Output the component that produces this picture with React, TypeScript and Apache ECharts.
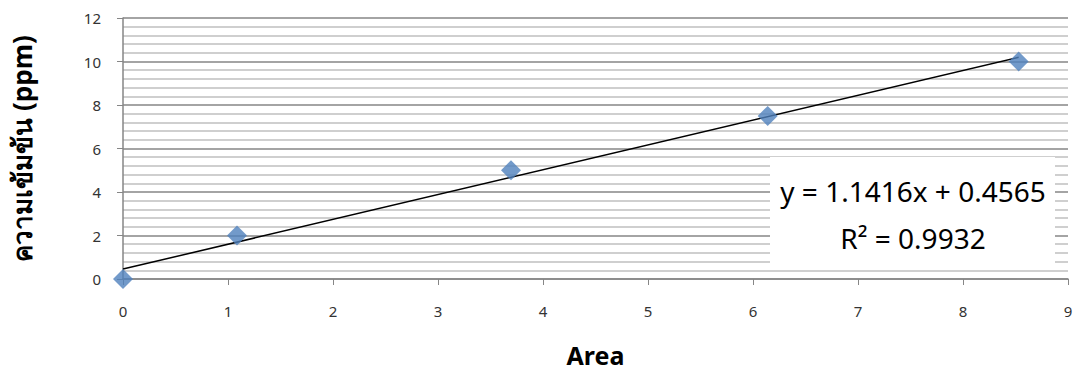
import React, { useEffect, useRef } from "react";
import * as echarts from "echarts";

const areaValues = [0, 1.086, 3.695, 6.14, 8.53];
const concValues = [0, 2, 5, 7.5, 10];
const slope = 1.1416;
const intercept = 0.4565;
const eqText = "y = 1.1416x + 0.4565";
const r2Text = "R² = 0.9932";
const xTitle = "Area";
const yTitle = "ความเข้มข้น (ppm)";

export default function App() {
  const ref = useRef<HTMLDivElement>(null);
  useEffect(() => {
    document.body.style.margin = "0";
    const chart = echarts.init(ref.current!, null, { renderer: "svg" });
    const xEnd = areaValues[areaValues.length - 1];
    const trend = [
      [0, intercept],
      [xEnd, slope * xEnd + intercept],
    ];
    const font = "'Noto Sans', 'DejaVu Sans', sans-serif";
    chart.setOption({
      animation: false,
      grid: { left: 123, right: 7, top: 18, bottom: 93, outerBoundsMode: "none", containLabel: false },
      xAxis: {
        type: "value",
        min: 0,
        max: 9,
        interval: 1,
        name: xTitle,
        nameLocation: "middle",
        nameGap: 63,
        nameTextStyle: { fontSize: 25, fontWeight: "bold", color: "#000", fontFamily: font },
        axisLine: { show: true, lineStyle: { color: "#868686", width: 1.5 } },
        axisTick: { show: true, length: 6, lineStyle: { color: "#868686" } },
        axisLabel: { fontSize: 15, color: "#333", margin: 24, fontFamily: font },
        splitLine: { show: false },
      },
      yAxis: {
        type: "value",
        min: 0,
        max: 12,
        interval: 2,
        name: yTitle,
        nameLocation: "middle",
        nameGap: 88,
        nameRotate: 90,
        nameTextStyle: { fontSize: 26, fontWeight: "bold", color: "#000", fontFamily: font },
        axisLine: { show: true, lineStyle: { color: "#868686", width: 1.5 } },
        axisTick: { show: true, inside: false, length: 6, lineStyle: { color: "#868686" } },
        axisLabel: { fontSize: 15, color: "#333", margin: 22, fontFamily: font },
        splitLine: { show: true, lineStyle: { color: "#868686", width: 1.5 } },
        minorTick: { show: false, splitNumber: 5 },
        minorSplitLine: { show: true, lineStyle: { color: "#bfbfbf", width: 1.5 } },
      },
      graphic: [
        {
          type: "rect",
          shape: { x: 770, y: 157, width: 285, height: 111 },
          style: { fill: "#ffffff" },
          z: 10,
        },
        {
          type: "text",
          x: 913,
          y: 191,
          style: {
            text: eqText,
            fontSize: 28,
            fill: "#000",
            fontFamily: font,
            textAlign: "center",
            textVerticalAlign: "middle",
          },
          z: 11,
        },
        {
          type: "text",
          x: 913,
          y: 238,
          style: {
            text: r2Text,
            fontSize: 28,
            fill: "#000",
            fontFamily: font,
            textAlign: "center",
            textVerticalAlign: "middle",
          },
          z: 11,
        },
      ],
      series: [
        {
          type: "line",
          data: trend,
          showSymbol: false,
          symbol: "none",
          lineStyle: { color: "#000", width: 1.5 },
          z: 3,
        },
        {
          type: "scatter",
          data: areaValues.map((x, i) => [x, concValues[i]]),
          symbol: "diamond",
          symbolSize: [20, 20],
          itemStyle: { color: "#4F81BD" },
          z: 4,
        },
      ],
    });
    return () => chart.dispose();
  }, []);
  return <div ref={ref} style={{ width: 1075, height: 372 }} />;
}
